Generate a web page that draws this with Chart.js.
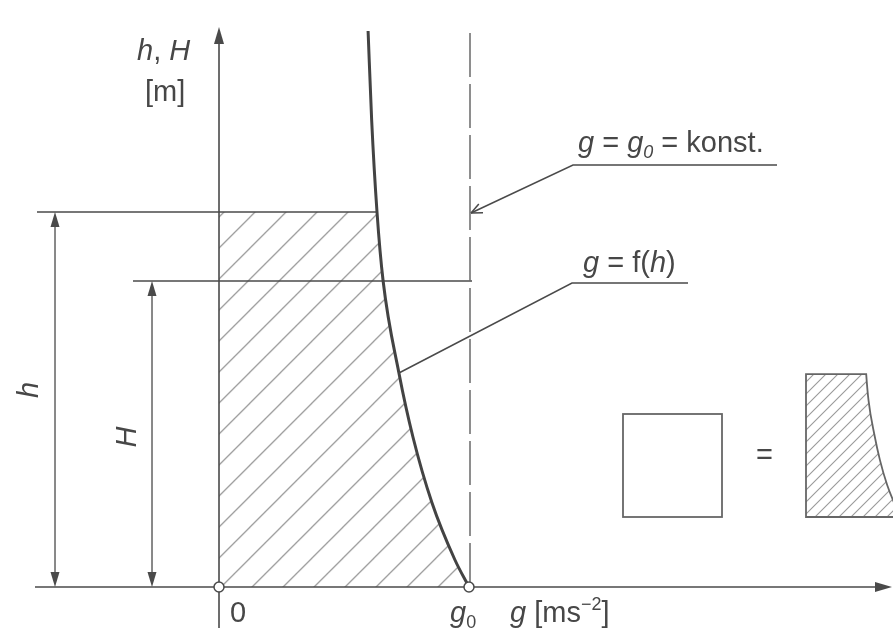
<!DOCTYPE html>
<html>
<head>
<meta charset="utf-8">
<title>g = f(h)</title>
<script src="https://cdn.jsdelivr.net/npm/chart.js@4.4.1/dist/chart.umd.min.js"></script>
<style>
  html, body { margin: 0; padding: 0; background: #fff; }
  canvas { display: block; }
</style>
</head>
<body>
<canvas id="chart" width="893" height="638"></canvas>
<script>
// g = f(h), read along the curve from the top down
const HEIGHTS = [11.12, 9.34, 7.5, 6.12, 4.28, 3.0, 1.68, 0.54, 0];
const GRAVITY = [5.85, 5.99, 6.20, 6.44, 7.06, 7.61, 8.36, 9.26, 9.81];
const G0 = 9.81;          // g = g0 = konst.
const LEVEL_H = 7.5;      // h
const LEVEL_BIG_H = 6.12; // H
const X_RANGE = [-8.594, 26.448];
const Y_RANGE = [-1.02, 11.74];

const INK = '#4a4a4a';
const HATCH = '#9a9a9a';
const FONT = '"Liberation Sans", Arial, sans-serif';
const FS = 29;

function hatchPattern(ctx, step, color, width) {
  const c = document.createElement('canvas');
  c.width = c.height = step;
  const p = c.getContext('2d');
  p.strokeStyle = color;
  p.lineWidth = width;
  p.beginPath();
  p.moveTo(-2, step + 2); p.lineTo(step + 2, -2);
  p.moveTo(-2, 2); p.lineTo(2, -2);
  p.moveTo(step - 2, step + 2); p.lineTo(step + 2, step - 2);
  p.stroke();
  return ctx.createPattern(c, 'repeat');
}

// area under the curve between the axis, the level h and the baseline
function regionPath(ctx, pts, top, ox, oy) {
  ctx.moveTo(ox, oy);
  ctx.lineTo(ox, pts[top].y);
  ctx.lineTo(pts[top].x, pts[top].y);
  for (let i = top + 1; i < pts.length; i++) {
    const a = pts[i - 1], b = pts[i];
    if (a.cp2x !== undefined && b.cp1x !== undefined) {
      ctx.bezierCurveTo(a.cp2x, a.cp2y, b.cp1x, b.cp1y, b.x, b.y);
    } else {
      ctx.lineTo(b.x, b.y);
    }
  }
  ctx.closePath();
}

function richText(ctx, x, y, runs, size) {
  let cx = x;
  for (const [t, st = ''] of runs) {
    const it = st.includes('i');
    const sub = st.includes('sub');
    const sup = st.includes('sup');
    const fs = (sub || sup) ? size * 0.62 : size;
    ctx.font = `${it ? 'italic ' : ''}${fs}px ${FONT}`;
    const dy = sub ? size * 0.2 : sup ? -size * 0.42 : 0;
    ctx.fillText(t, cx, y + dy);
    cx += ctx.measureText(t).width;
  }
}

function arrowHead(ctx, tx, ty, angle, len, half) {
  ctx.beginPath();
  ctx.moveTo(tx, ty);
  ctx.lineTo(tx - len * Math.cos(angle) + half * Math.sin(angle), ty - len * Math.sin(angle) - half * Math.cos(angle));
  ctx.lineTo(tx - len * Math.cos(angle) - half * Math.sin(angle), ty - len * Math.sin(angle) + half * Math.cos(angle));
  ctx.closePath();
  ctx.fill();
}

function line(ctx, pts) {
  ctx.beginPath();
  ctx.moveTo(pts[0][0], pts[0][1]);
  for (let i = 1; i < pts.length; i++) ctx.lineTo(pts[i][0], pts[i][1]);
  ctx.stroke();
}

const diagram = {
  id: 'diagram',
  beforeDatasetsDraw(chart) {
    const { ctx, scales: { x, y } } = chart;
    const meta = chart.getDatasetMeta(0);
    meta.dataset.updateControlPoints(chart.chartArea, meta.iScale.axis);
    const pts = meta.data;
    const top = HEIGHTS.indexOf(LEVEL_H);
    const ox = x.getPixelForValue(0), oy = y.getPixelForValue(0);
    const gx = x.getPixelForValue(G0);
    const hy = y.getPixelForValue(LEVEL_H), Hy = y.getPixelForValue(LEVEL_BIG_H);

    ctx.save();
    // hatched area
    const pat = hatchPattern(ctx, 31, HATCH, 1.3);
    pat.setTransform(new DOMMatrix([1, 0, 0, 1, (ox + oy + 33) % 31, 0]));
    ctx.beginPath();
    regionPath(ctx, pts, top, ox, oy);
    ctx.fillStyle = pat;
    ctx.fill();

    // small copy of the area on the right, next to the square
    const s = 0.381;
    ctx.save();
    ctx.translate(806 - s * ox, 517 - s * oy);
    ctx.scale(s, s);
    ctx.beginPath();
    regionPath(ctx, pts, top, ox, oy);
    ctx.restore();
    ctx.fillStyle = hatchPattern(ctx, 12, HATCH, 1.1);
    ctx.fill();
    ctx.strokeStyle = '#666';
    ctx.lineWidth = 1.8;
    ctx.stroke();
    ctx.strokeRect(623, 414, 99, 103);

    ctx.strokeStyle = INK;
    ctx.fillStyle = INK;
    ctx.lineWidth = 1.6;
    // level lines: h stops at the curve, H runs on to g0
    line(ctx, [[ox - 182, hy], [pts[top].x, hy]]);
    line(ctx, [[ox - 86, Hy], [gx + 3, Hy]]);
    // axes
    line(ctx, [[ox - 184, oy], [886, oy]]);
    arrowHead(ctx, 892, oy, 0, 17, 5);
    line(ctx, [[ox, oy + 41], [ox, 40]]);
    arrowHead(ctx, ox, 27, -Math.PI / 2, 17, 5);
    // dimension arrows
    ctx.lineWidth = 1.3;
    for (const [dx, ty] of [[ox - 164, hy], [ox - 67, Hy]]) {
      line(ctx, [[dx, ty + 8], [dx, oy - 8]]);
      arrowHead(ctx, dx, ty, -Math.PI / 2, 15, 4.5);
      arrowHead(ctx, dx, oy, Math.PI / 2, 15, 4.5);
    }
    // g = g0 dashed
    ctx.strokeStyle = '#6a6a6a';
    ctx.lineWidth = 1.5;
    ctx.setLineDash([44, 7]);
    line(ctx, [[gx + 1, 33], [gx + 1, oy]]);
    ctx.setLineDash([]);
    ctx.restore();
  },
  afterDatasetsDraw(chart) {
    const { ctx, scales: { x, y } } = chart;
    const pts = chart.getDatasetMeta(0).data;
    const ox = x.getPixelForValue(0), oy = y.getPixelForValue(0);
    const gx = x.getPixelForValue(G0);
    const hy = y.getPixelForValue(LEVEL_H);

    ctx.save();
    ctx.strokeStyle = INK;
    ctx.lineWidth = 1.5;
    // leaders
    const tip = [gx + 2, hy + 1];
    line(ctx, [tip, [573, 165], [777, 165]]);
    const ang = Math.atan2(165 - tip[1], 573 - tip[0]);
    for (const d of [0.42, -0.42]) {
      line(ctx, [tip, [tip[0] + 12 * Math.cos(ang + d), tip[1] + 12 * Math.sin(ang + d)]]);
    }
    const p = pts[HEIGHTS.indexOf(4.28)];
    line(ctx, [[p.x, p.y], [572, 283], [688, 283]]);

    // open circles at 0 and g0
    ctx.fillStyle = '#fff';
    for (const cx of [ox, gx]) {
      ctx.beginPath();
      ctx.arc(cx, oy, 5, 0, Math.PI * 2);
      ctx.fill();
      ctx.stroke();
    }

    // texts
    ctx.fillStyle = '#474747';
    ctx.textBaseline = 'alphabetic';
    ctx.textAlign = 'left';
    richText(ctx, 137, 60, [['h', 'i'], [', '], ['H', 'i']], FS);
    richText(ctx, 145, 101, [['[m]']], FS);
    richText(ctx, 578, 152, [['g', 'i'], [' = '], ['g', 'i'], ['0', 'i sub'], [' = konst.']], FS);
    richText(ctx, 583, 272, [['g', 'i'], [' = f('], ['h', 'i'], [')']], FS);
    richText(ctx, 230, 622, [['0']], FS);
    richText(ctx, 450, 622, [['g', 'i'], ['0', 'sub']], FS);
    richText(ctx, 510, 622, [['g', 'i'], [' [ms'], ['\u22122', 'sup'], [']']], FS);
    richText(ctx, 756, 464, [['=']], FS);

    ctx.font = `italic ${FS}px ${FONT}`;
    ctx.textAlign = 'center';
    ctx.textBaseline = 'middle';
    for (const [t, cx, cy] of [['h', ox - 189, 390], ['H', ox - 91, 437]]) {
      ctx.save();
      ctx.translate(cx, cy);
      ctx.rotate(-Math.PI / 2);
      ctx.fillText(t, 0, 0);
      ctx.restore();
    }
    ctx.restore();
  }
};

new Chart(document.getElementById('chart'), {
  type: 'line',
  data: {
    datasets: [{
      label: 'g = f(h)',
      data: HEIGHTS.map((h, i) => ({ x: GRAVITY[i], y: h })),
      borderColor: '#434343',
      borderWidth: 3,
      pointRadius: 0,
      fill: false,
      cubicInterpolationMode: 'monotone'
    }]
  },
  options: {
    responsive: false,
    devicePixelRatio: 1,
    animation: false,
    layout: { padding: 0 },
    scales: {
      x: { type: 'linear', display: false, min: X_RANGE[0], max: X_RANGE[1] },
      y: { type: 'linear', display: false, min: Y_RANGE[0], max: Y_RANGE[1] }
    },
    plugins: { legend: { display: false }, tooltip: { enabled: false } }
  },
  plugins: [diagram]
});
</script>
</body>
</html>
